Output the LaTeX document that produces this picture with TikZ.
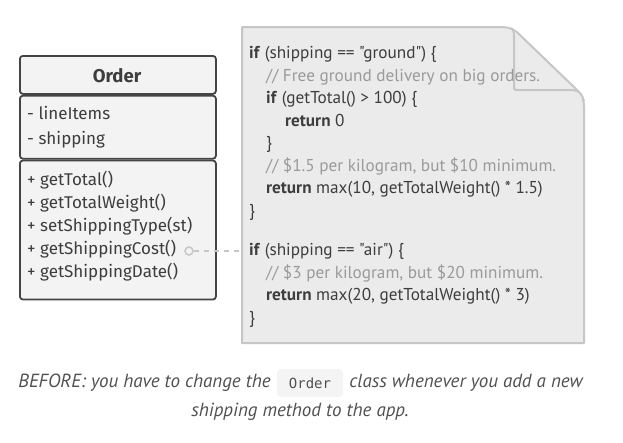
\documentclass[tikz,border=0pt]{standalone}
\usepackage{fontspec}
\setmainfont{PT Sans}
\setmonofont{DejaVu Sans Mono}
\newfontfamily\umlfont{Fira Sans}
\newfontfamily\codefont{PT Sans}
\usetikzlibrary{positioning}

\definecolor{umlfill}{HTML}{F3F3F3}
\definecolor{umlline}{HTML}{444444}
\definecolor{codefill}{HTML}{EBEBEB}
\definecolor{codeline}{HTML}{C6C6C6}
\definecolor{codetext}{HTML}{3D3D3D}
\definecolor{comment}{HTML}{9A9A9A}
\definecolor{captext}{HTML}{505050}
\definecolor{pillfill}{HTML}{F4F4F4}

\tikzset{
  compartment/.style={draw=umlline, fill=umlfill, line width=1.8pt, rounded corners=3pt,
    minimum width=196pt, inner sep=0pt},
  umltext/.style={anchor=base west, inner sep=0pt, text=codetext, font=\umlfont\fontsize{17}{20}\selectfont},
  codeln/.style={anchor=base west, inner sep=0pt, text=codetext, font=\codefont\fontsize{17.2}{20}\selectfont},
  commentln/.style={codeln, text=comment},
  captiontext/.style={inner sep=0pt, text=captext, font=\itshape\fontsize{19}{23}\selectfont},
}
\newcommand{\kw}[1]{\textbf{#1}}

\begin{document}
\begin{tikzpicture}[x=1pt, y=-1pt]
\useasboundingbox (0,0) rectangle (623,442);

% Klasse Order
\node[compartment, minimum height=38pt, anchor=north west] (head) at (19,55) {};
\node[compartment, minimum height=63pt, below=0pt of head] (attrs) {};
\node[compartment, minimum height=139pt, below=0pt of attrs] (meths) {};
\node[umltext, anchor=base, font=\umlfont\bfseries\fontsize{18.5}{22}\selectfont] (title) at (117,82) {Order};
\node[umltext] (a1) at (27,119) {- lineItems};
\node[umltext] (a2) at (27,144) {- shipping};
\node[umltext] (m1) at (27,185) {+ getTotal()};
\node[umltext] (m2) at (27,208) {+ getTotalWeight()};
\node[umltext] (m3) at (27,231) {+ setShippingType(st)};
\node[umltext] (m4) at (27,254) {+ getShippingCost()};
\node[umltext] (m5) at (27,277) {+ getShippingDate()};

% Notiz mit Code
\draw[codeline, fill=codefill, line width=2pt, line join=round]
  (242,27) -- (500,27) .. controls (511,27) and (515,30) .. (521,36)
  -- (576,89) .. controls (582,95) and (584,99) .. (584,108)
  -- (584,343) -- (242,343) -- cycle;
\draw[codeline, fill=codefill, line width=2pt, line join=round]
  (511,28) .. controls (514,31) .. (514,40) -- (514,85)
  .. controls (514,90) .. (519,90) -- (572,90) .. controls (579,90) and (582,94) .. (584,101);

\node[codeln] (c1) at (249,58) {\kw{if} (shipping == "ground") \{};
\node[commentln] (c2) at (266,81) {// Free ground delivery on big orders.};
\node[codeln] (c3) at (266,103) {\kw{if} (getTotal() > 100) \{};
\node[codeln] (c4) at (285,126) {\kw{return} 0};
\node[codeln] (c5) at (266,148) {\}};
\node[commentln] (c6) at (266,171) {// \$1.5 per kilogram, but \$10 minimum.};
\node[codeln] (c7) at (266,193) {\kw{return} max(10, getTotalWeight() * 1.5)};
\node[codeln] (c8) at (249,216) {\}};
\node[codeln] (c9) at (249,255) {\kw{if} (shipping == "air") \{};
\node[commentln] (c10) at (266,278) {// \$3 per kilogram, but \$20 minimum.};
\node[codeln] (c11) at (266,300) {\kw{return} max(20, getTotalWeight() * 3)};
\node[codeln] (c12) at (249,323) {\}};

% Verbindung
\node[circle, draw=codeline, line width=1.5pt, minimum size=8pt, inner sep=0pt] (port) at (189,251) {};
\coordinate (notein) at (242,251);
\draw[codeline, line width=1.8pt, dash pattern=on 5pt off 5pt] (port) -- (notein);

% Legende
\node[fill=pillfill, rounded corners=4pt, minimum width=66pt, minimum height=28pt, inner sep=0pt,
  text=captext, font=\ttfamily\fontsize{14}{16}\selectfont] (pill) at (310,383) {Order};
\node[captiontext, anchor=east] (capl) at ([xshift=-6pt]pill.west) {BEFORE: you have to change the};
\node[captiontext, anchor=west] (capr) at ([xshift=6pt]pill.east) {class whenever you add a new};
\node[captiontext, anchor=base] (cap2) at (300,416) {shipping method to the app.};
\end{tikzpicture}
\end{document}
